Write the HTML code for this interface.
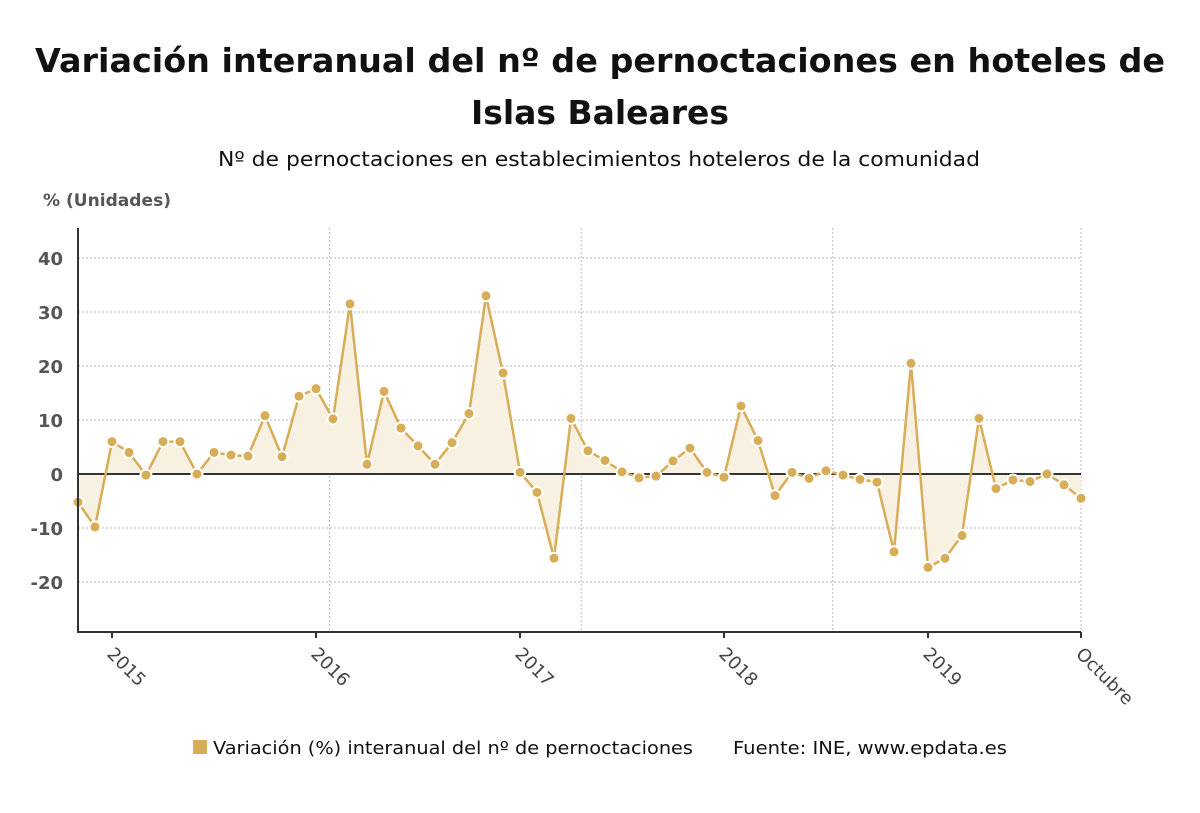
<!DOCTYPE html>
<html><head><meta charset="utf-8"><style>
body{margin:0;background:#fff;width:1200px;height:809px;overflow:hidden;font-family:"DejaVu Sans","Liberation Sans",sans-serif;}
svg text{font-family:"DejaVu Sans","Liberation Sans",sans-serif;}
</style></head><body>
<svg width="1200" height="809" xmlns="http://www.w3.org/2000/svg">
<text x="35" y="72" font-size="33" font-weight="bold" fill="#111" textLength="1130" lengthAdjust="spacingAndGlyphs">Variación interanual del nº de pernoctaciones en hoteles de</text>
<text x="471" y="124" font-size="33" font-weight="bold" fill="#111" textLength="258" lengthAdjust="spacingAndGlyphs">Islas Baleares</text>
<text x="218" y="166" font-size="20" fill="#111" textLength="762" lengthAdjust="spacingAndGlyphs">Nº de pernoctaciones en establecimientos hoteleros de la comunidad</text>
<text x="43" y="206" font-size="17" font-weight="bold" fill="#555" textLength="128" lengthAdjust="spacingAndGlyphs">% (Unidades)</text>
<g id="grid"></g>
<g id="plot"></g>
<g id="xaxis"></g>
<rect x="193" y="740" width="14" height="14" fill="#d7ad57"/>
<text x="213" y="754" font-size="18" fill="#111" textLength="480" lengthAdjust="spacingAndGlyphs">Variación (%) interanual del nº de pernoctaciones</text>
<text x="733" y="754" font-size="18" fill="#111" textLength="274" lengthAdjust="spacingAndGlyphs">Fuente: INE, www.epdata.es</text>
</svg>
<script>
const values=[-5.2,-9.8,6,4,-0.2,6,6,0,4,3.5,3.3,10.8,3.2,14.4,15.8,10.2,31.5,1.8,15.3,8.5,5.2,1.8,5.8,11.2,33,18.7,0.3,-3.4,-15.6,10.3,4.3,2.5,0.4,-0.7,-0.4,2.4,4.8,0.3,-0.6,12.6,6.2,-4,0.3,-0.8,0.6,-0.2,-1,-1.5,-14.4,20.5,-17.3,-15.6,-11.4,10.3,-2.7,-1.1,-1.4,0,-2,-4.5];
const yTicks=[40,30,20,10,0,-10,-20];
const xLabels=["2015","2016","2017","2018","2019","Octubre"];
const xLabelIdx=[2,14,26,38,50,59];
const NS="http://www.w3.org/2000/svg";
const x0=78,x1=1081,yZero=474,pxPerUnit=5.4;
const X=i=>x0+i*(x1-x0)/(values.length-1);
const Y=v=>yZero-v*pxPerUnit;
function mk(tag,attrs,parent){const e=document.createElementNS(NS,tag);for(const k in attrs)e.setAttribute(k,attrs[k]);parent.appendChild(e);return e;}
const grid=document.getElementById('grid'),plot=document.getElementById('plot'),xa=document.getElementById('xaxis');
yTicks.forEach(t=>{
 if(t!==0){const l=mk('line',{x1:x0,x2:x1,y1:Y(t),y2:Y(t),stroke:'#bbb','stroke-dasharray':'2,2'},grid);
 
 }
 const tx=mk('text',{x:63,y:Y(t)+7,'text-anchor':'end','font-size':18,'font-weight':'bold',fill:'#555'},grid);
 tx.textContent=t;
 
 
});
[14.8,29.6,44.4,59].forEach(i=>{
 const l=mk('line',{x1:X(i),x2:X(i),y1:228,y2:632,stroke:'#bbb','stroke-dasharray':'2,2'},grid);
 
 
});
let area='M'+X(0)+','+yZero;values.forEach((v,i)=>area+=' L'+X(i)+','+Y(v));area+=' L'+X(values.length-1)+','+yZero+' Z';
const ar=mk('path',{d:area,fill:'#f8f1e2'},plot);


const zl=mk('line',{x1:x0,x2:x1,y1:yZero,y2:yZero,stroke:'#333','stroke-width':2},plot);


const ln=mk('polyline',{points:values.map((v,i)=>X(i)+','+Y(v)).join(' '),fill:'none',stroke:'#d7ad57','stroke-width':2.5},plot);


values.forEach((v,i)=>{
 const c=mk('circle',{cx:X(i),cy:Y(v),r:5.5,fill:'#d7ad57',stroke:'#fff','stroke-width':2},plot);
 
 
});
const la=mk('path',{d:'M'+x0+',228 L'+x0+',632 L'+x1+',632',fill:'none',stroke:'#333','stroke-width':2},xa);


xLabelIdx.forEach((idx,k)=>{
 const x=X(idx);
 const tk=mk('line',{x1:x,x2:x,y1:632,y2:638,stroke:'#333','stroke-width':2},xa);
 
 
 const t=mk('text',{x:x-6,y:655,'font-size':18,fill:'#444',transform:'rotate(45 '+(x-6)+' 655)'},xa);
 t.textContent=xLabels[k];
 
 
});
</script>
</body></html>
